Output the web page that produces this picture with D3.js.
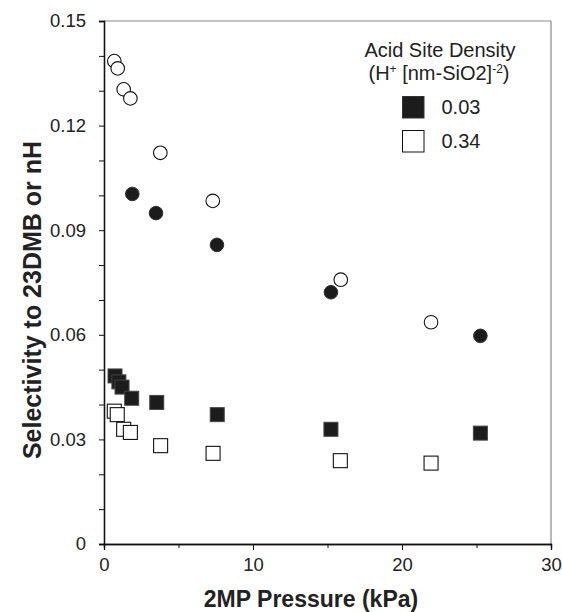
<!DOCTYPE html>
<html><head><meta charset="utf-8">
<script src="https://cdn.jsdelivr.net/npm/d3@7"></script>
<style>
body{margin:0;background:#fff;}
text{font-family:"Liberation Sans",Arial,Helvetica,sans-serif;fill:#222;}
</style></head>
<body><svg id="c" width="562" height="612"></svg>
<script>
// Data
const openCircleX  = [0.69, 0.92, 1.32, 1.77, 3.78, 7.3, 15.89, 21.95];
const openCircleY  = [0.1385, 0.1364, 0.1304, 0.1278, 0.1122, 0.0984, 0.0758, 0.0636];
const fillCircleX  = [1.9, 3.49, 7.58, 15.23, 25.26];
const fillCircleY  = [0.1004, 0.0949, 0.0858, 0.0722, 0.0597];
const fillSquareX  = [0.74, 1.0, 1.21, 1.86, 3.54, 7.6, 15.23, 25.26];
const fillSquareY  = [0.0482, 0.0465, 0.0450, 0.0418, 0.0406, 0.0371, 0.0329, 0.0318];
const openSquareX  = [0.69, 0.89, 1.32, 1.77, 3.8, 7.32, 15.86, 21.95];
const openSquareY  = [0.0381, 0.0371, 0.0329, 0.0320, 0.0282, 0.0260, 0.0239, 0.0232];
const xMajorTicks = [0, 10, 20, 30];
const xMinorTicks = [5, 15, 25];
const yMajorTicks = [0, 0.03, 0.06, 0.09, 0.12, 0.15];
const yMinorTicks = [0.01,0.02,0.04,0.05,0.07,0.08,0.10,0.11,0.13,0.14];
const yTickLabels = ["0", "0.03", "0.06", "0.09", "0.12", "0.15"];
const legendLabels = ["0.03", "0.34"];

const svg = d3.select("#c");
const L = 104, R = 551, T = 21, B = 544;
const x = d3.scaleLinear().domain([0, 30]).range([L, R]);
const y = d3.scaleLinear().domain([0, 0.15]).range([B, T]);

// frame (top & right)
svg.append("line").attr("x1", L).attr("x2", R).attr("y1", T).attr("y2", T)
  .attr("stroke", "#888").attr("stroke-width", 1.2);
svg.append("line").attr("x1", R).attr("x2", R).attr("y1", T).attr("y2", B)
  .attr("stroke", "#888").attr("stroke-width", 1.2);

// x axis
svg.append("g").attr("transform", `translate(0,${B})`)
  .call(d3.axisBottom(x).tickValues(xMajorTicks).tickSize(6).tickPadding(8).tickFormat(d3.format("d")));
svg.append("g").attr("transform", `translate(0,${B})`)
  .call(d3.axisBottom(x).tickValues(xMinorTicks).tickSize(4).tickFormat(""));
// y axis
svg.append("g").attr("transform", `translate(${L},0)`)
  .call(d3.axisLeft(y).tickValues(yMajorTicks).tickSize(5).tickPadding(13)
    .tickFormat((d, i) => yTickLabels[i]));
svg.append("g").attr("transform", `translate(${L},0)`)
  .call(d3.axisLeft(y).tickValues(yMinorTicks).tickSize(5).tickFormat(""));

svg.selectAll(".domain").attr("stroke", "#111").attr("stroke-width", 1.3);
svg.selectAll(".tick line").attr("stroke", "#111").attr("stroke-width", 1);
svg.selectAll(".tick text").style("font-size", "18.5px").style("font-family", "'Liberation Sans',Arial,sans-serif").attr("fill", "#222");

// titles
svg.append("text").attr("x", 311).attr("y", 607).attr("text-anchor", "middle")
  .style("font-size", "23px").style("font-weight", "bold").text("2MP Pressure (kPa)");
svg.append("text").attr("transform", `translate(41,300) rotate(-90)`)
  .attr("text-anchor", "middle").style("font-size", "25px").style("font-weight", "bold")
  .text("Selectivity to 23DMB or nH");

// markers
function zip(a, b) { return a.map((v, i) => [v, b[i]]); }
const gm = svg.append("g");
gm.selectAll(".oc").data(zip(openCircleX, openCircleY)).join("circle")
  .attr("cx", d => x(d[0])).attr("cy", d => y(d[1])).attr("r", 6.8)
  .attr("fill", "#fff").attr("stroke", "#111").attr("stroke-width", 1.1);
gm.selectAll(".fc").data(zip(fillCircleX, fillCircleY)).join("circle")
  .attr("cx", d => x(d[0])).attr("cy", d => y(d[1])).attr("r", 6.8)
  .attr("fill", "#1c1c1c").attr("stroke", "#333").attr("stroke-width", 1);
const S = 14;
gm.selectAll(".os").data(zip(openSquareX, openSquareY)).join("rect")
  .attr("x", d => x(d[0]) - S / 2).attr("y", d => y(d[1]) - S / 2).attr("width", S).attr("height", S)
  .attr("fill", "#fff").attr("stroke", "#111").attr("stroke-width", 1.1);
gm.selectAll(".fs").data(zip(fillSquareX, fillSquareY)).join("rect")
  .attr("x", d => x(d[0]) - S / 2).attr("y", d => y(d[1]) - S / 2).attr("width", S).attr("height", S)
  .attr("fill", "#1c1c1c").attr("stroke", "#444").attr("stroke-width", 1);

// legend
const lg = svg.append("g");
lg.append("text").attr("x", 440).attr("y", 57).attr("text-anchor", "middle")
  .style("font-size", "20px").text("Acid Site Density");
const t2 = lg.append("text").attr("x", 439).attr("y", 80).attr("text-anchor", "middle")
  .style("font-size", "20px");
t2.append("tspan").text("(H");
t2.append("tspan").attr("dy", -7).style("font-size", "12px").text("+");
t2.append("tspan").attr("dy", 7).text(" [nm-SiO2]");
t2.append("tspan").attr("dy", -7).style("font-size", "12px").text("-2");
t2.append("tspan").attr("dy", 7).text(")");
const legY = [107, 141];
const legFill = ["#1c1c1c", "#fff"];
legendLabels.forEach((lab, i) => {
  lg.append("rect").attr("x", 402.5).attr("y", legY[i] - 10.5).attr("width", 21.5).attr("height", 21.5)
    .attr("fill", legFill[i]).attr("stroke", i ? "#111" : "#333").attr("stroke-width", 1);
  lg.append("text").attr("x", 441.5).attr("y", legY[i] + 7).style("font-size", "20px").text(lab);
});
</script></body></html>
